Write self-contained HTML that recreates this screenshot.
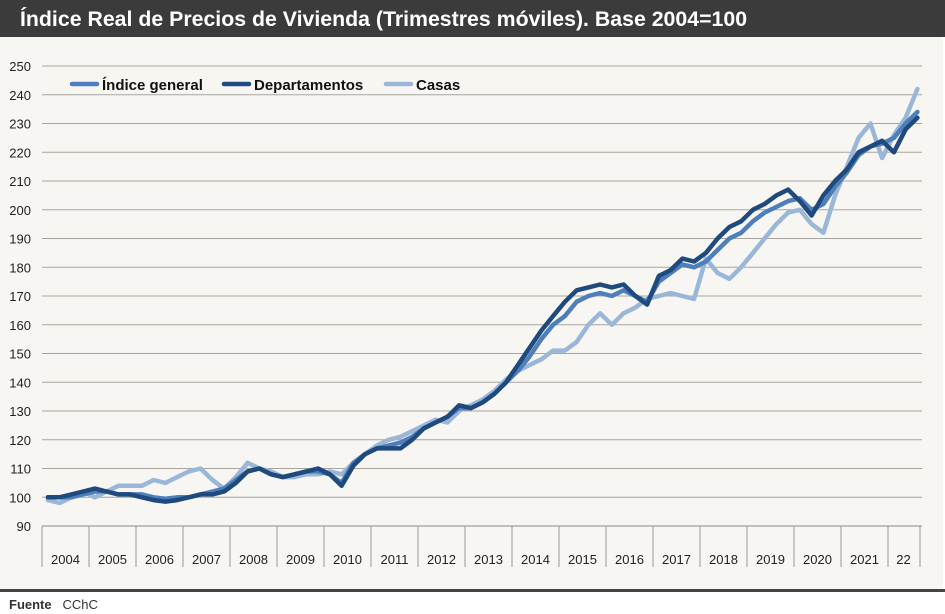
<!DOCTYPE html>
<html><head><meta charset="utf-8"><style>
body{margin:0;width:945px;height:614px;background:#fff;font-family:"Liberation Sans",Arial,sans-serif;overflow:hidden}
#title{position:absolute;left:0;top:0;width:945px;height:37px;background:#3b3b3b;color:#fff;font-weight:bold;font-size:21.3px;line-height:38px;padding-left:20px;box-sizing:border-box}
#chartbox{position:absolute;left:0;top:37px;width:943px;height:553px;background:#f8f6f2}
#bottomline{position:absolute;left:0;top:589px;width:945px;height:3px;background:#444}
#src{position:absolute;left:9px;top:597px;font-size:13px;color:#333}
</style></head><body>
<div id="title">Índice Real de Precios de Vivienda (Trimestres móviles). Base 2004=100</div>
<div id="chartbox"></div>
<div id="bottomline"></div>
<div id="src"><b>Fuente</b>&nbsp;&nbsp; CChC</div>
<svg id="svg" width="945" height="614" style="position:absolute;left:0;top:0"></svg>
<script>
const yTicks=[90,100,110,120,130,140,150,160,170,180,190,200,210,220,230,240,250];
const years=["2004","2005","2006","2007","2008","2009","2010","2011","2012","2013","2014","2015","2016","2017","2018","2019","2020","2021","22"];
const general=[100,100,100,101,102,102,101,101,101,100,99.5,100,100,101,102,103,106,109,110,108,107,108,109,109,108,105,112,115,117,118,119,121,124,126,128,131,131,133,136,140,144,149,155,160,163,168,170,171,170,172,170,168,175,178,181,180,182,186,190,192,196,199,201,203,204,200,202,208,213,219,222,223,225,230,234];
const departamentos=[100,100,101,102,103,102,101,101,100,99,98.5,99,100,101,101,102,105,109,110,108,107,108,109,110,108,104,111,115,117,117,117,120,124,126,128,132,131,133,136,140,146,152,158,163,168,172,173,174,173,174,170,167,177,179,183,182,185,190,194,196,200,202,205,207,203,198,205,210,214,220,222,224,220,228,232];
const casas=[99,98,100,102,100,102,104,104,104,106,105,107,109,110,106,103,107,112,110,109,107,107,108,108,109,108,112,115,118,120,121,123,125,127,126,130,132,134,137,141,144,146,148,151,151,154,160,164,160,164,166,169,170,171,170,169,183,178,176,180,185,190,195,199,200,195,192,205,215,225,230,218,226,232,242];
const NS="http://www.w3.org/2000/svg";
const svg=document.getElementById('svg');
const X0=42,YW=47,Y90=526,PX10=28.75;
const yS=v=>Y90-(v-90)/10*PX10;
const xS=i=>X0+(i+0.5)/4*YW;
function mk(t,a){const e=document.createElementNS(NS,t);for(const k in a)e.setAttribute(k,a[k]);svg.appendChild(e);return e;}
yTicks.forEach(v=>{
  const l=mk('line',{x1:X0,x2:922,y1:yS(v),y2:yS(v),stroke:v==90?'#888':'#a8a5a0','stroke-width':1});
  
  
  const t=mk('text',{x:31,y:yS(v)+5,'text-anchor':'end','font-size':13,fill:'#222'});
  t.textContent=v;
  
  
});
years.forEach((y,i)=>{
  const x=X0+i*YW;
  const l=mk('line',{x1:x,x2:x,y1:Y90,y2:567,stroke:'#999','stroke-width':1});
  
  
  const w=(i==years.length-1)?31:YW;
  const t=mk('text',{x:x+w/2,y:564,'text-anchor':'middle','font-size':13,fill:'#222'});
  t.textContent=y;
  
  
});
const le=mk('line',{x1:920,x2:920,y1:Y90,y2:567,stroke:'#999'});


function series(arr,color,name){
  const d=arr.map((v,i)=>(i?'L':'M')+xS(i).toFixed(1)+','+yS(v).toFixed(1)).join('');
  const p=mk('path',{d:d,fill:'none',stroke:color,'stroke-width':4.5,'stroke-linejoin':'round','stroke-linecap':'round'});
  
  
}
series(casas,'#9ab7da','series-casas');
series(general,'#4f7fba','series-indice-general');
series(departamentos,'#1f4a7e','series-departamentos');
const leg=[["Índice general",'#4f7fba',72],["Departamentos",'#1f4a7e',224],["Casas",'#9ab7da',386]];
leg.forEach(([n,c,x])=>{
  const l=mk('line',{x1:x,x2:x+25,y1:84,y2:84,stroke:c,'stroke-width':4.5,'stroke-linecap':'round'});
  
  
  const t=mk('text',{x:x+30,y:90,'font-size':15,'font-weight':'bold',fill:'#111'});
  t.textContent=n;
  
  
});
</script>
</body></html>
